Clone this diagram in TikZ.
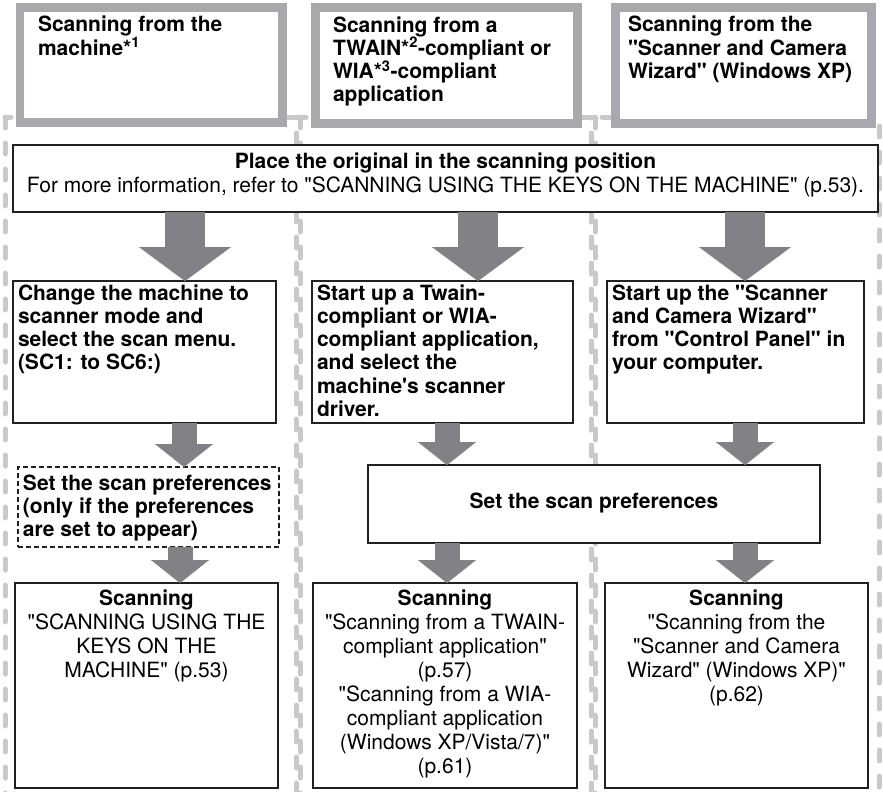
\documentclass[tikz,border=0pt]{standalone}
\usepackage{fontspec}
% straight quotes and apostrophes, as printed
\setmainfont{TeX Gyre Heros}[Ligatures=TeXOff]
\usetikzlibrary{arrows.meta}
\definecolor{hdrgray}{HTML}{A7A9AC}
\definecolor{framegray}{HTML}{C8C9CB}
\definecolor{arrowgray}{HTML}{808285}
\definecolor{inkblack}{HTML}{231F20}
% fixes the height of a first line so text can be placed by its baseline
\newcommand\topstrut{\rule{0pt}{16pt}}

\begin{document}
\begin{tikzpicture}[x=1pt,y=-1pt,
  every node/.style={outer sep=0pt, inner sep=0pt},
  hdrbox/.style={draw=hdrgray, line width=8.5pt, fill=white, anchor=north west},
  stepbox/.style={draw=inkblack, line width=2.5pt, fill=white, anchor=north west},
  optbox/.style={draw=inkblack, line width=2pt, dash pattern=on 5pt off 3pt, fill=white, anchor=north west},
  lefttxt/.style={font=\fontsize{21}{23.3}\selectfont\bfseries, align=left, anchor=north west},
  centertxt/.style={font=\fontsize{21}{24}\selectfont, align=center, anchor=north},
  colframe/.style={draw=framegray, line width=5pt, line cap=round, dash pattern=on 11pt off 15pt},
  bigarrow/.style={draw=arrowgray, line width=40pt, -{Triangle[width=92pt,length=34pt,line width=0.01pt]}},
  smallarrow/.style={draw=arrowgray, line width=25pt, -{Triangle[width=58pt,length=23pt,line width=0.01pt]}},
]
\useasboundingbox (0,0) rectangle (883,792);
\clip (0,0) rectangle (883,792);

% column frames
\draw[colframe] (5,117) rectangle (296,830);
\draw[colframe] (300,117) rectangle (591,830);
\draw[colframe] (595,117) rectangle (879,830);

% column headers
\node[hdrbox, minimum width=262.5pt, minimum height=115pt] (hdrA) at (20,7.5) {};
\node[hdrbox, minimum width=262pt, minimum height=116pt] (hdrB) at (315.5,7.5) {};
\node[hdrbox, minimum width=256pt, minimum height=116pt] (hdrC) at (615.5,7.5) {};
\node[lefttxt] (hdrAtext) at (38,16) {\topstrut Scanning from the\\machine*\textsuperscript{1}};
\node[lefttxt] (hdrBtext) at (333,16) {\topstrut Scanning from a\\TWAIN*\textsuperscript{2}-compliant or\\WIA*\textsuperscript{3}-compliant\\application};
\node[lefttxt] (hdrCtext) at (628,16) {\topstrut Scanning from the\\"Scanner and Camera\\Wizard" (Windows XP)};

% step boxes
\node[stepbox, minimum width=865pt, minimum height=67pt] (place) at (13,145) {};
\node[stepbox, minimum width=263pt, minimum height=142pt] (change) at (13,281) {};
\node[stepbox, minimum width=261pt, minimum height=142pt] (twain) at (312,281) {};
\node[stepbox, minimum width=257pt, minimum height=142pt] (wizard) at (607,281) {};
\node[optbox, minimum width=261pt, minimum height=80pt] (prefopt) at (18,467) {};
\node[stepbox, minimum width=452pt, minimum height=78pt] (prefs) at (368,465) {};
\node[stepbox, minimum width=263pt, minimum height=205pt] (scanA) at (15,583) {};
\node[stepbox, minimum width=264pt, minimum height=205pt] (scanB) at (313,583) {};
\node[stepbox, minimum width=263pt, minimum height=205pt] (scanC) at (605,583) {};

% step texts
\node[centertxt] (placetext) at (445.5,152) {\topstrut\textbf{Place the original in the scanning position}\\For more information, refer to "SCANNING USING THE KEYS ON THE MACHINE" (p.53).};
\node[lefttxt] (changetext) at (18,284) {\topstrut Change the machine to\\scanner mode and\\select the scan menu.\\(SC1: to SC6:)};
\node[lefttxt] (twaintext) at (317,284) {\topstrut Start up a Twain-\\compliant or WIA-\\compliant application,\\and select the\\machine's scanner\\driver.};
\node[lefttxt] (wizardtext) at (612,284) {\topstrut Start up the "Scanner\\and Camera Wizard"\\from "Control Panel" in\\your computer.};
\node[lefttxt] (prefopttext) at (23,474) {\topstrut Set the scan preferences\\(only if the preferences\\are set to appear)};
\node[centertxt, font=\fontsize{21}{24}\selectfont\bfseries] (prefstext) at (594,492) {\topstrut Set the scan preferences};
\node[centertxt] (scanAtext) at (146.5,589) {\topstrut\textbf{Scanning}\\"SCANNING USING THE\\KEYS ON THE\\MACHINE" (p.53)};
\node[centertxt] (scanBtext) at (445,589) {\topstrut\textbf{Scanning}\\"Scanning from a TWAIN-\\compliant application"\\(p.57)\\"Scanning from a WIA-\\compliant application\\(Windows XP/Vista/7)"\\(p.61)};
\node[centertxt] (scanCtext) at (736.5,589) {\topstrut\textbf{Scanning}\\"Scanning from the\\"Scanner and Camera\\Wizard" (Windows XP)"\\(p.62)};

% arrow columns
\coordinate (ax1) at (185,0);
\coordinate (ax2) at (478,0);
\coordinate (ax3) at (745,0);
\coordinate (bx1) at (184,0);
\coordinate (bx2) at (447,0);
\coordinate (bx3) at (745,0);
\coordinate (cx1) at (180,0);

% flow arrows
\draw[bigarrow] (place.south -| ax1) -- (change.north -| ax1);
\draw[bigarrow] (place.south -| ax2) -- (twain.north -| ax2);
\draw[bigarrow] (place.south -| ax3) -- (wizard.north -| ax3);
\draw[smallarrow] (change.south -| bx1) -- (prefopt.north -| bx1);
\draw[smallarrow] (twain.south -| bx2) -- (prefs.north -| bx2);
\draw[smallarrow] (wizard.south -| bx3) -- (prefs.north -| bx3);
\draw[smallarrow] (prefopt.south -| cx1) -- (scanA.north -| cx1);
\draw[smallarrow] (prefs.south -| bx2) -- (scanB.north -| bx2);
\draw[smallarrow] (prefs.south -| bx3) -- (scanC.north -| bx3);
\end{tikzpicture}
\end{document}
